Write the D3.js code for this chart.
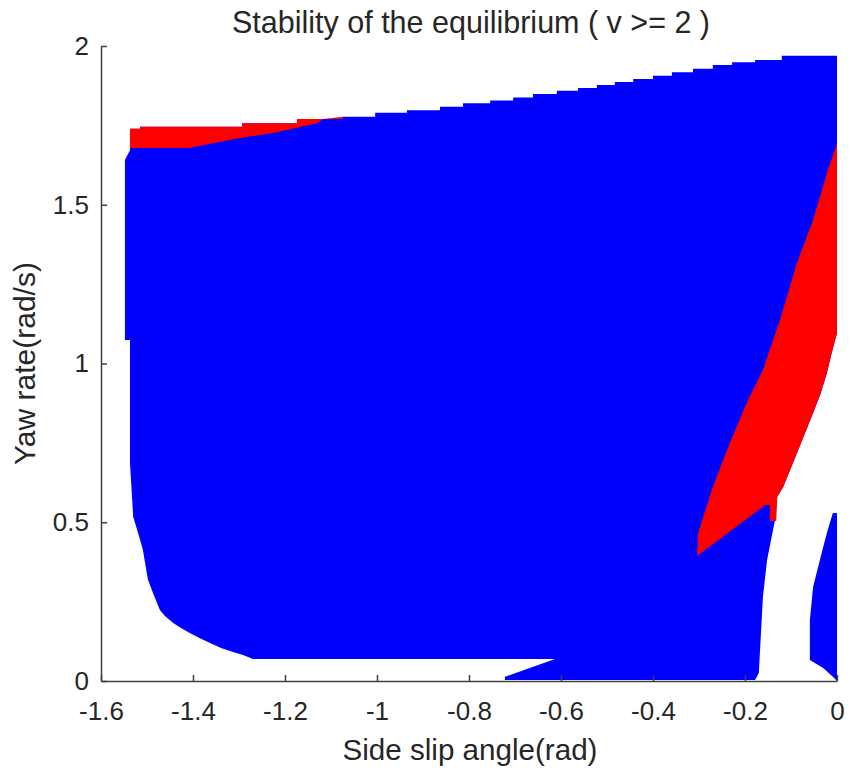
<!DOCTYPE html>
<html>
<head>
<meta charset="utf-8">
<script src="https://cdn.jsdelivr.net/npm/d3@7"></script>
<style>
  html, body { margin: 0; padding: 0; background: #fff; }
  svg { display: block; }
  text { font-family: "Liberation Sans", Arial, Helvetica, sans-serif; fill: #262626; }
</style>
</head>
<body>
<svg id="chart" width="851" height="773"></svg>
<script>
// Region boundaries in (side slip angle [rad], yaw rate [rad/s]).

// Upper edge of the stable set, stair-stepped left to right.
const topEdge = [
  [-1.537, 1.739], [-1.515, 1.746], [-1.293, 1.757], [-1.174, 1.770],
  [-1.074, 1.777], [-1.004, 1.790], [-0.935, 1.798], [-0.863, 1.809],
  [-0.813, 1.820], [-0.754, 1.828], [-0.704, 1.838], [-0.661, 1.849],
  [-0.609, 1.859], [-0.563, 1.868], [-0.522, 1.877], [-0.483, 1.887],
  [-0.443, 1.896], [-0.400, 1.906], [-0.359, 1.917], [-0.313, 1.928],
  [-0.270, 1.940], [-0.228, 1.949], [-0.178, 1.956], [-0.120, 1.969],
  [0.000, 1.969]
];

// Right side of the unstable wedge, top to bottom.
const wedgeRightEdge = [
  [0.000, 1.096], [-0.012, 1.031], [-0.022, 0.970], [-0.036, 0.904],
  [-0.052, 0.844], [-0.087, 0.718], [-0.117, 0.611], [-0.130, 0.580],
  [-0.132, 0.504], [-0.146, 0.504], [-0.146, 0.554], [-0.156, 0.554]
];

// Left side of the unstable wedge, bottom tip to top.
const wedgeLeftEdge = [
  [-0.304, 0.394], [-0.302, 0.466], [-0.270, 0.611], [-0.233, 0.750],
  [-0.196, 0.876], [-0.161, 0.980], [-0.124, 1.137], [-0.087, 1.317],
  [-0.052, 1.452], [-0.022, 1.600], [0.000, 1.694]
];

// Stable-set boundary below the wedge, then the bottom and left sides.
const stableLowerEdge = [
  [-0.135, 0.504], [-0.139, 0.476], [-0.152, 0.381], [-0.161, 0.265],
  [-0.170, 0.025], [-0.178, 0.003], [-0.722, 0.003], [-0.722, 0.013],
  [-0.613, 0.069], [-1.270, 0.069], [-1.291, 0.082], [-1.313, 0.091],
  [-1.339, 0.104], [-1.363, 0.120], [-1.385, 0.135], [-1.407, 0.151],
  [-1.426, 0.167], [-1.443, 0.183], [-1.461, 0.205], [-1.472, 0.224],
  [-1.487, 0.277], [-1.498, 0.320], [-1.509, 0.413], [-1.517, 0.454],
  [-1.530, 0.517], [-1.537, 0.687], [-1.537, 1.074], [-1.548, 1.074],
  [-1.548, 1.641], [-1.537, 1.672]
];

// Lower edge of the thin unstable strip near the top-left.
const stripLowerEdge = [
  [-1.117, 1.770], [-1.130, 1.757], [-1.167, 1.745], [-1.226, 1.726],
  [-1.298, 1.710], [-1.357, 1.694], [-1.407, 1.679], [-1.537, 1.679]
];

// Small stable sliver next to beta = 0.
const sliver = [
  [-0.009, 0.529], [0.000, 0.529], [0.000, 0.000], [-0.009, 0.013],
  [-0.030, 0.041], [-0.059, 0.066], [-0.059, 0.192], [-0.052, 0.296],
  [-0.041, 0.359], [-0.030, 0.422], [-0.020, 0.476]
];

const xTicks = [-1.6, -1.4, -1.2, -1, -0.8, -0.6, -0.4, -0.2, 0];
const yTicks = [0, 0.5, 1, 1.5, 2];

const titleText = "Stability of the equilibrium ( v >= 2 )";
const xLabel = "Side slip angle(rad)";
const yLabel = "Yaw rate(rad/s)";

const stableColor = "#0000ff";
const unstableColor = "#ff0000";

const svg = d3.select("#chart");
const margin = { left: 101, right: 14, top: 46, bottom: 92 };
const W = 851, H = 773;

const x = d3.scaleLinear().domain([-1.6, 0]).range([margin.left, W - margin.right]);
const y = d3.scaleLinear().domain([0, 2]).range([H - margin.bottom, margin.top]);

// Expand an edge into horizontal/vertical stair segments.
function stairs(pts) {
  const out = [];
  for (let i = 0; i < pts.length; i++) {
    out.push(pts[i]);
    if (i + 1 < pts.length) out.push([pts[i + 1][0], pts[i][1]]);
  }
  return out;
}

const line = d3.line().x(d => x(d[0])).y(d => y(d[1])).curve(d3.curveLinearClosed);

const stablePoly = [].concat(stairs(topEdge), wedgeRightEdge.slice(0, 7), [[-0.130, 0.580], [-0.135, 0.504]], stableLowerEdge);
const wedgePoly = [].concat(wedgeRightEdge, wedgeLeftEdge);
const stripPoly = [].concat(stairs(topEdge.slice(0, 5)), stripLowerEdge);

const g = svg.append("g");
g.append("path").attr("d", line(stablePoly)).attr("fill", stableColor);
g.append("path").attr("d", line(sliver)).attr("fill", stableColor);
g.append("path").attr("d", line(wedgePoly)).attr("fill", unstableColor);
g.append("path").attr("d", line(stripPoly)).attr("fill", unstableColor);

// Axes with inward ticks, no box.
const axisColor = "#404040";
const fmt = d => String(d);

const xAxis = svg.append("g").attr("transform", `translate(0,${y(0)})`)
  .call(d3.axisBottom(x).tickValues(xTicks).tickSizeInner(-6).tickSizeOuter(0).tickPadding(21).tickFormat(fmt));
const yAxis = svg.append("g").attr("transform", `translate(${x(-1.6)},0)`)
  .call(d3.axisLeft(y).tickValues(yTicks).tickSizeInner(-6).tickSizeOuter(0).tickPadding(12).tickFormat(fmt));

[xAxis, yAxis].forEach(a => {
  a.select(".domain").attr("stroke", axisColor).attr("stroke-width", 1.5);
  a.selectAll(".tick line").attr("stroke", axisColor).attr("stroke-width", 1.5);
  a.selectAll(".tick text").attr("font-size", 26).attr("fill", "#262626")
    .attr("font-family", "'Liberation Sans', Arial, sans-serif");
});

svg.append("text").attr("x", 471).attr("y", 33).attr("text-anchor", "middle")
  .attr("font-size", 30.5).text(titleText);
svg.append("text").attr("x", 470).attr("y", 760).attr("text-anchor", "middle")
  .attr("font-size", 29.6).text(xLabel);
svg.append("text").attr("transform", `translate(35,${(y(0) + y(2)) / 2}) rotate(-90)`)
  .attr("text-anchor", "middle").attr("font-size", 30).text(yLabel);
</script>
</body>
</html>
